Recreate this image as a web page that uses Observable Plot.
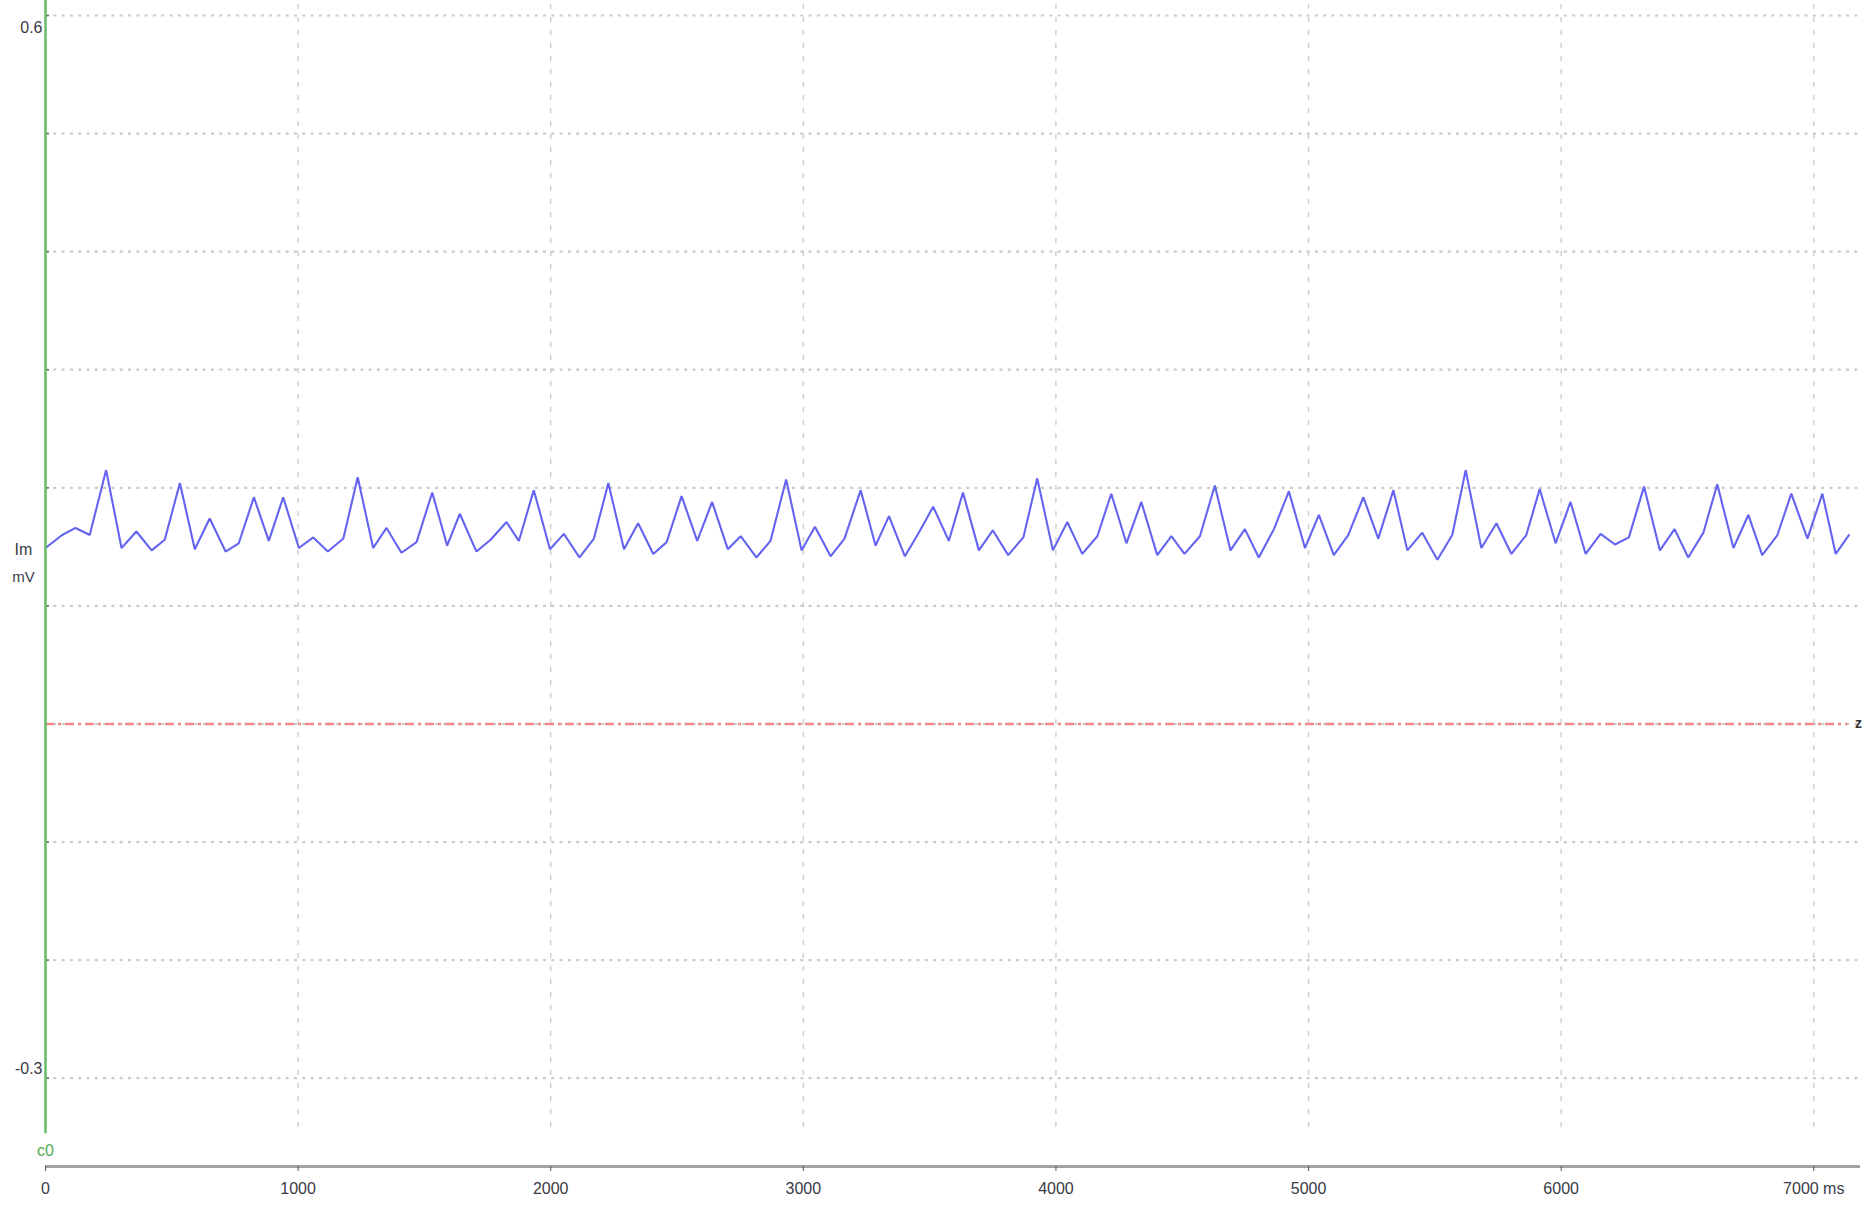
<!DOCTYPE html>
<html>
<head>
<meta charset="utf-8">
<script src="https://cdn.jsdelivr.net/npm/d3@7"></script>
<script src="https://cdn.jsdelivr.net/npm/@observablehq/plot@0.6"></script>
<style>
  html, body { margin: 0; padding: 0; background: #ffffff; }
  #chart svg { display: block; }
</style>
</head>
<body>
<div id="chart"></div>
<script>
// Sample times (ms) of the Im trace
const timeMs = [
  0, 66, 119, 175, 240, 301, 360, 420, 472, 532, 591, 650, 713, 765, 825, 884, 941, 1003, 1060, 1118,
  1179, 1236, 1297, 1350, 1409, 1469, 1531, 1590, 1640, 1706, 1762, 1825, 1874, 1933, 1997, 2052, 2114, 2171, 2228, 2290,
  2346, 2406, 2459, 2518, 2580, 2639, 2701, 2752, 2814, 2870, 2932, 2993, 3046, 3108, 3163, 3227, 3286, 3339, 3402, 3457,
  3514, 3576, 3632, 3695, 3750, 3811, 3871, 3926, 3988, 4045, 4104, 4164, 4219, 4279, 4338, 4401, 4457, 4509, 4570, 4629,
  4691, 4748, 4803, 4863, 4922, 4986, 5041, 5100, 5157, 5217, 5276, 5336, 5391, 5450, 5510, 5569, 5622, 5684, 5744, 5803,
  5862, 5915, 5978, 6037, 6097, 6156, 6213, 6268, 6328, 6391, 6449, 6503, 6563, 6618, 6682, 6741, 6796, 6856, 6911, 6975,
  7034, 7087, 7139
];
// Im values (mV)
const imMv = [
  0.149, 0.160, 0.166, 0.160, 0.215, 0.149, 0.163, 0.147, 0.156, 0.204, 0.148, 0.174, 0.146, 0.153, 0.192, 0.155, 0.192, 0.149, 0.158, 0.146,
  0.157, 0.209, 0.149, 0.166, 0.145, 0.154, 0.196, 0.151, 0.178, 0.146, 0.156, 0.171, 0.155, 0.198, 0.148, 0.161, 0.141, 0.157, 0.204, 0.148,
  0.170, 0.144, 0.154, 0.193, 0.155, 0.188, 0.148, 0.159, 0.141, 0.155, 0.207, 0.147, 0.167, 0.142, 0.157, 0.198, 0.151, 0.176, 0.142, 0.162,
  0.184, 0.155, 0.196, 0.147, 0.164, 0.143, 0.158, 0.208, 0.147, 0.171, 0.144, 0.159, 0.195, 0.153, 0.188, 0.143, 0.159, 0.144, 0.159, 0.202,
  0.147, 0.165, 0.141, 0.165, 0.197, 0.149, 0.177, 0.143, 0.160, 0.192, 0.157, 0.198, 0.147, 0.162, 0.139, 0.160, 0.215, 0.149, 0.170, 0.144,
  0.160, 0.199, 0.153, 0.188, 0.144, 0.161, 0.152, 0.158, 0.201, 0.147, 0.165, 0.141, 0.162, 0.203, 0.149, 0.177, 0.143, 0.160, 0.195, 0.157,
  0.195, 0.144, 0.160
];
const xTicks = [0, 1000, 2000, 3000, 4000, 5000, 6000, 7000];
const xTickLabels = ["0", "1000", "2000", "3000", "4000", "5000", "6000", "7000 ms"];
const yGridTicks = [0.6, 0.5, 0.4, 0.3, 0.2, 0.1, 0.0, -0.1, -0.2, -0.3];
const yTopLabel = [0.6];
const yBottomLabel = [-0.3];
const zeroLevel = [0.0];

const xMax = 7185;
const yTop = 0.6127;
const yAxisLine = -0.3748;
const greenBottom = -0.347;
const vGridBottom = -0.3417;
const zeroLineEnd = 7134;

const data = timeMs.map((t, i) => ({t, v: imMv[i]}));
const FONT = "Liberation Sans, Arial, sans-serif";
const TXT = "#3a3a46";

const chart = Plot.plot({
  width: 1870,
  height: 1210,
  marginLeft: 45,
  marginRight: 10,
  marginTop: 0,
  marginBottom: 44,
  style: {background: "#ffffff", fontFamily: FONT, fontSize: "16px", color: TXT},
  x: {domain: [0, xMax], axis: null, label: null},
  y: {domain: [yAxisLine, yTop], axis: null, label: null},
  marks: [
    // vertical dashed grid
    Plot.ruleX(xTicks.filter(d => d > 0), {x: d => d, y1: vGridBottom, y2: yTop, stroke: "#cdcdcd", strokeWidth: 1.4, strokeDasharray: "5,8"}),
    // horizontal dotted grid
    Plot.ruleY(yGridTicks, {y: d => d, x1: 0, x2: xMax, stroke: "#cbcbcb", strokeWidth: 2.2, strokeDasharray: "3,5.3"}),
    // small y tick marks
    Plot.ruleY(yGridTicks, {y: d => d, x1: 0, x2: 16, stroke: "#666", strokeWidth: 1.5}),
    // zero reference line
    Plot.ruleY(zeroLevel, {y: d => d, x1: 0, x2: zeroLineEnd, stroke: "#f08a8a", strokeWidth: 2.6, strokeDasharray: "9,4,3,4"}),
    Plot.text(zeroLevel, {x: zeroLineEnd, y: d => d, text: d => "z", dx: 11, fill: "#333", fontSize: 14, fontWeight: "bold", textAnchor: "middle"}),
    // Im trace
    Plot.line(data, {x: "t", y: "v", stroke: "#6464f0", strokeWidth: 2.1, strokeLinejoin: "miter"}),
    // green y axis line
    Plot.ruleX([0], {x: d => d, y1: greenBottom, y2: yTop, stroke: "#66bb66", strokeWidth: 2.5}),
    // x axis line
    Plot.ruleY([yAxisLine], {y: d => d, x1: 0, x2: xMax, stroke: "#a2a2a2", strokeWidth: 3}),
    Plot.axisX(xTicks, {anchor: "bottom", label: null, tickSize: 5, tickPadding: 11, stroke: "#555", fill: TXT, fontSize: 16,
      tickFormat: d => xTickLabels[xTicks.indexOf(d)]}),
    // y labels
    Plot.text(yTopLabel, {x: 0, y: d => d, text: d => String(d), dx: -3, dy: 12, textAnchor: "end", fill: TXT, fontSize: 16}),
    Plot.text(yBottomLabel, {x: 0, y: d => d, text: d => String(d), dx: -3, dy: -9, textAnchor: "end", fill: TXT, fontSize: 16}),
    Plot.text(["Im"], {x: 0, y: 0.1478, text: d => d, dx: -22, textAnchor: "middle", fill: TXT, fontSize: 16}),
    Plot.text(["mV"], {x: 0, y: 0.124, text: d => d, dx: -22, textAnchor: "middle", fill: TXT, fontSize: 15}),
    Plot.text(["c0"], {x: 0, y: -0.3612, text: d => d, textAnchor: "middle", fill: "#55aa55", fontSize: 16})
  ]
});
document.getElementById("chart").appendChild(chart);
</script>
</body>
</html>
